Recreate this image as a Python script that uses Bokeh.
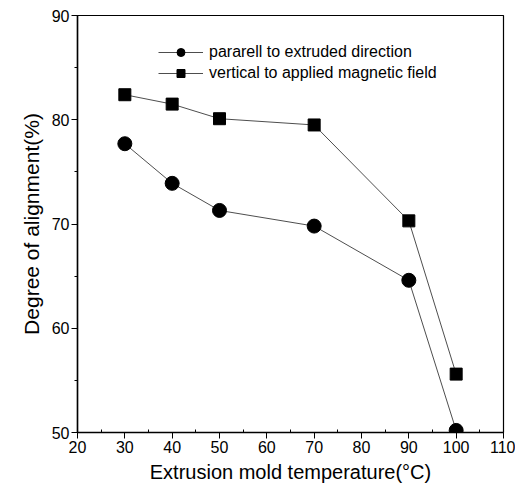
from bokeh.plotting import figure
from bokeh.models import Range1d, Legend, LegendItem, FixedTicker
from bokeh.embed import file_html
from bokeh.resources import INLINE

temps = [30, 40, 50, 70, 90, 100]
parallel = [77.7, 73.9, 71.3, 69.8, 64.6, 50.2]
vertical = [82.4, 81.5, 80.1, 79.5, 70.3, 55.6]
x_ticks = [20, 30, 40, 50, 60, 70, 80, 90, 100, 110]
y_ticks = [50, 60, 70, 80, 90]

FONT = "Liberation Sans"

p = figure(width=515, height=494, output_backend="svg", toolbar_location=None,
           x_range=Range1d(20, 110), y_range=Range1d(50, 90),
           min_border_left=77, min_border_right=12, min_border_top=15, min_border_bottom=62)
p.grid.visible = False
p.outline_line_color = "black"
p.outline_line_width = 1.2
p.background_fill_color = "white"
p.border_fill_color = "white"

l1 = p.line(temps, parallel, line_color="black", line_width=0.7)
m1 = p.scatter(temps, parallel, marker="circle", size=14, fill_color="black", line_color="black")
l2 = p.line(temps, vertical, line_color="black", line_width=0.7)
m2 = p.scatter(temps, vertical, marker="square", size=12, fill_color="black", line_color="black")

legend = Legend(items=[
    LegendItem(label="pararell to extruded direction", renderers=[l1, m1]),
    LegendItem(label="vertical to applied magnetic field", renderers=[l2, m2]),
], location=(81, 349))
legend.glyph_width = 45
legend.glyph_height = 20
legend.spacing = 1
legend.padding = 0
legend.margin = 0
legend.label_standoff = 6
legend.border_line_color = None
legend.background_fill_alpha = 0
legend.label_text_font = FONT
legend.label_text_font_size = "16px"
legend.label_text_color = "black"
p.add_layout(legend)

for ax in (p.xaxis[0], p.yaxis[0]):
    ax.axis_line_width = 1.5
    ax.axis_line_color = "black"
    ax.major_tick_line_color = "black"
    ax.major_tick_out = 6
    ax.major_tick_in = 0
    ax.minor_tick_line_color = "black"
    ax.major_label_text_font = FONT
    ax.major_label_text_font_size = "16px"
    ax.major_label_text_color = "black"
    ax.axis_label_text_font = FONT
    ax.axis_label_text_font_style = "normal"
    ax.axis_label_text_color = "black"

p.xaxis.axis_label_text_font_size = "20px"
p.yaxis.axis_label_text_font_size = "21px"
p.xaxis.ticker = FixedTicker(ticks=x_ticks, minor_ticks=[25, 35, 45, 55, 65, 75, 85, 95, 105])
p.yaxis.ticker = FixedTicker(ticks=y_ticks, minor_ticks=[55, 65, 75, 85])
p.xaxis.minor_tick_in = 3
p.xaxis.minor_tick_out = 0
p.yaxis.minor_tick_in = 0
p.yaxis.minor_tick_out = 3
p.xaxis.axis_label = "Extrusion mold temperature(°C)"
p.yaxis.axis_label = "Degree of alignment(%)"
p.xaxis.major_label_standoff = 2
p.yaxis.major_label_standoff = 2
p.xaxis.axis_label_standoff = 5
p.yaxis.axis_label_standoff = 6

open("out.html", "w").write(file_html(p, INLINE))
